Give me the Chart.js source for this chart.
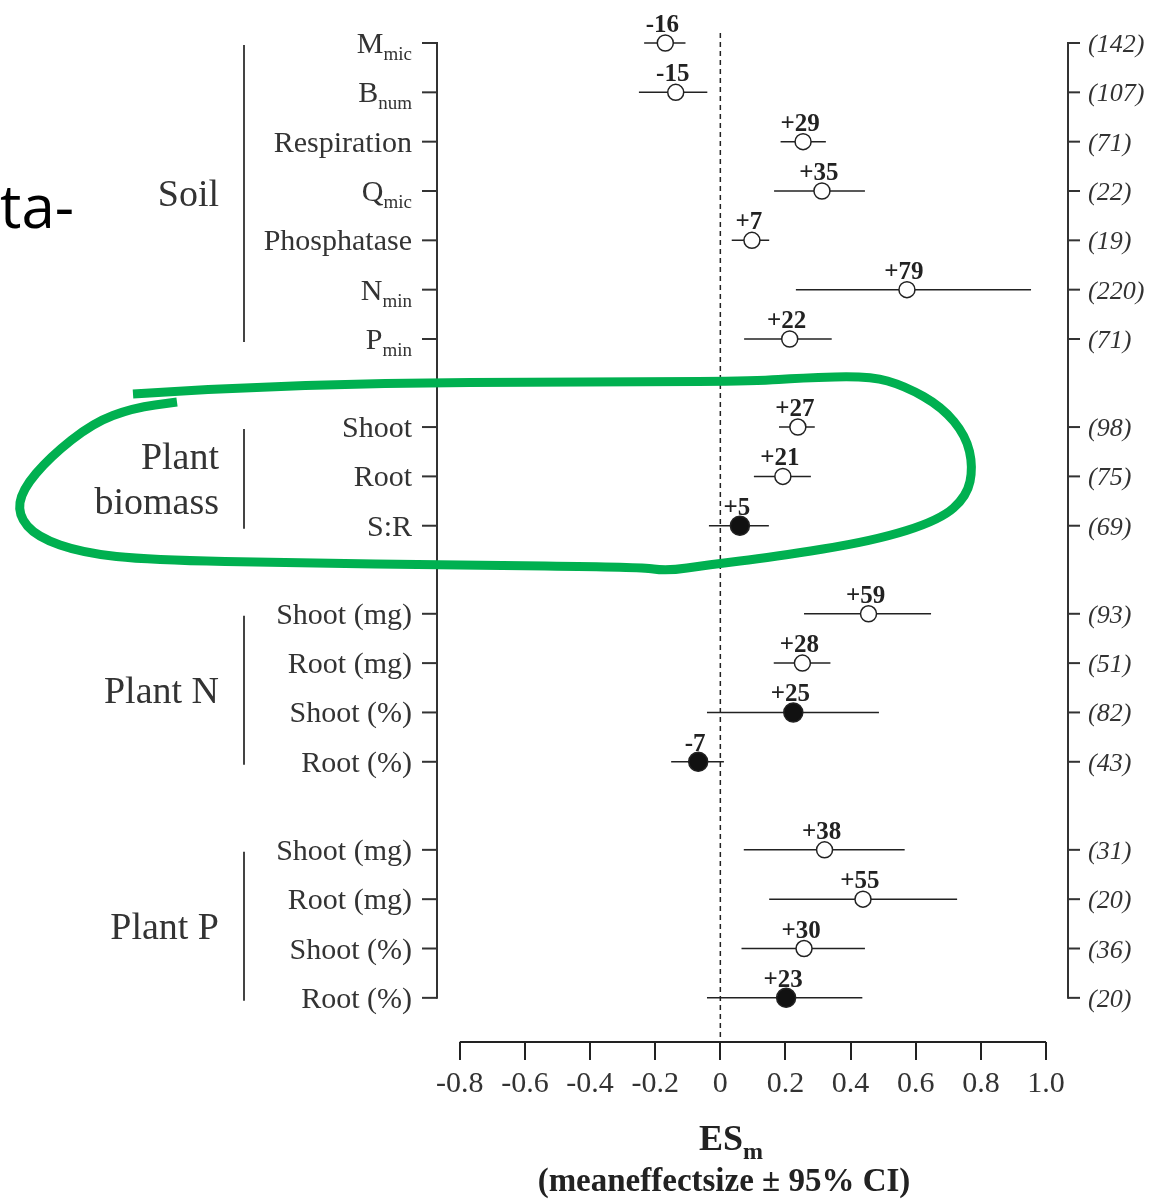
<!DOCTYPE html>
<html>
<head>
<meta charset="utf-8">
<script src="https://cdn.jsdelivr.net/npm/chart.js@4.4.0/dist/chart.umd.min.js"></script>
<style>
html, body { margin: 0; padding: 0; background: #fff; }
</style>
</head>
<body>
<canvas id="myChart" width="1162" height="1204"></canvas>
<script>
// rows, top to bottom
var rowNames = ["M", "B", "Respiration", "Q", "Phosphatase", "N", "P",
    "Shoot", "Root", "S:R",
    "Shoot (mg)", "Root (mg)", "Shoot (%)", "Root (%)",
    "Shoot (mg)", "Root (mg)", "Shoot (%)", "Root (%)"];
var rowSubs = ["mic", "num", "", "mic", "", "min", "min",
    "", "", "",
    "", "", "", "",
    "", "", "", ""];
var rowGroup = [0, 0, 0, 0, 0, 0, 0, 1, 1, 1, 2, 2, 2, 2, 3, 3, 3, 3];
var groupNames = [["Soil"], ["Plant", "biomass"], ["Plant N"], ["Plant P"]];

// mean effect size and 95% CI
var means  = [-0.169, -0.137, 0.254, 0.312, 0.097, 0.573, 0.213,
    0.238, 0.192, 0.060,
    0.455, 0.252, 0.224, -0.068,
    0.320, 0.438, 0.257, 0.202];
var ciLow  = [-0.234, -0.250, 0.185, 0.165, 0.035, 0.232, 0.073,
    0.180, 0.103, -0.035,
    0.257, 0.164, -0.041, -0.151,
    0.072, 0.150, 0.065, -0.041];
var ciHigh = [-0.107, -0.040, 0.324, 0.444, 0.150, 0.954, 0.342,
    0.290, 0.278, 0.149,
    0.647, 0.338, 0.487, 0.011,
    0.566, 0.727, 0.444, 0.436];
var pctLabels = ["-16", "-15", "+29", "+35", "+7", "+79", "+22",
    "+27", "+21", "+5",
    "+59", "+28", "+25", "-7",
    "+38", "+55", "+30", "+23"];
var counts = ["(142)", "(107)", "(71)", "(22)", "(19)", "(220)", "(71)",
    "(98)", "(75)", "(69)",
    "(93)", "(51)", "(82)", "(43)",
    "(31)", "(20)", "(36)", "(20)"];
var filled = [0, 0, 0, 0, 0, 0, 0, 0, 0, 1, 0, 0, 1, 1, 0, 0, 0, 1];

var xTicks = [-0.8, -0.6, -0.4, -0.2, 0, 0.2, 0.4, 0.6, 0.8, 1.0];
var xTickLabels = ["-0.8", "-0.6", "-0.4", "-0.2", "0", "0.2", "0.4", "0.6", "0.8", "1.0"];

var SERIF = "'Liberation Serif', 'Times New Roman', serif";
var GAP = 0.785; // extra space between groups, in rows

var rowPos = rowGroup.map(function (g, i) { return i + g * GAP; });
var points = means.map(function (m, i) { return { x: m, y: rowPos[i] }; });

// hand drawn highlight round the plant biomass block (annotation, pixels)
var loopPath = [[133, 394], [300, 383], [640, 382], [757, 381], [800, 378], [870, 376], [905, 386],
    [942, 407], [966, 436], [973, 467], [967, 496], [940, 520], [873, 541], [773, 557],
    [707, 565], [667, 571], [640, 567], [450, 565], [300, 563], [150, 560], [83, 553],
    [37, 537], [18, 515], [22, 490], [50, 457], [93, 423], [133, 408], [177, 402]];

function line(ctx, x1, y1, x2, y2) {
    ctx.beginPath();
    ctx.moveTo(x1, y1);
    ctx.lineTo(x2, y2);
    ctx.stroke();
}

var forestPlugin = {
    id: 'forest',
    beforeDatasetsDraw: function (chart) {
        var ctx = chart.ctx, xs = chart.scales.x, ys = chart.scales.y, area = chart.chartArea;
        var top = ys.getPixelForValue(rowPos[0]);
        var bottom = ys.getPixelForValue(rowPos[rowPos.length - 1]);
        ctx.save();
        ctx.strokeStyle = '#222';

        // zero line
        ctx.lineWidth = 1.5;
        ctx.setLineDash([5, 4]);
        line(ctx, xs.getPixelForValue(0), top - 10, xs.getPixelForValue(0), area.bottom);
        ctx.setLineDash([]);

        // x axis line
        ctx.lineWidth = 2;
        line(ctx, xs.getPixelForValue(xTicks[0]), area.bottom, xs.getPixelForValue(xTicks[xTicks.length - 1]), area.bottom);

        // left and right frames
        ctx.strokeStyle = '#333';
        line(ctx, area.left, top - 1, area.left, bottom + 1);
        line(ctx, area.right, top - 1, area.right, bottom + 1);
        rowPos.forEach(function (p) {
            var y = ys.getPixelForValue(p);
            line(ctx, area.left - 15, y, area.left, y);
            line(ctx, area.right, y, area.right + 12, y);
        });

        // confidence intervals
        ctx.strokeStyle = '#222';
        ctx.lineWidth = 1.5;
        rowPos.forEach(function (p, i) {
            var y = ys.getPixelForValue(p);
            line(ctx, xs.getPixelForValue(ciLow[i]), y, xs.getPixelForValue(ciHigh[i]), y);
        });
        ctx.restore();
    },
    afterDatasetsDraw: function (chart) {
        var ctx = chart.ctx, xs = chart.scales.x, ys = chart.scales.y, area = chart.chartArea;
        ctx.save();
        ctx.fillStyle = '#333';

        // row labels with subscripts
        var labelRight = area.left - 25;
        rowPos.forEach(function (p, i) {
            var y = ys.getPixelForValue(p);
            var x = labelRight;
            if (rowSubs[i]) {
                ctx.font = '19px ' + SERIF;
                ctx.textAlign = 'right';
                ctx.fillText(rowSubs[i], x, y + 17);
                x -= ctx.measureText(rowSubs[i]).width;
            }
            ctx.font = '30px ' + SERIF;
            ctx.textAlign = 'right';
            ctx.fillText(rowNames[i], x, y + 10);
        });

        // percent change over each point
        ctx.font = 'bold 25px ' + SERIF;
        ctx.textAlign = 'center';
        ctx.fillStyle = '#222';
        rowPos.forEach(function (p, i) {
            ctx.fillText(pctLabels[i], xs.getPixelForValue(means[i]) - 3, ys.getPixelForValue(p) - 11);
        });

        // number of observations
        ctx.font = 'italic 26px ' + SERIF;
        ctx.textAlign = 'left';
        ctx.fillStyle = '#333';
        rowPos.forEach(function (p, i) {
            ctx.fillText(counts[i], area.right + 20, ys.getPixelForValue(p) + 9);
        });

        // group brackets and names
        groupNames.forEach(function (names, g) {
            var idx = [];
            rowGroup.forEach(function (rg, i) { if (rg === g) idx.push(i); });
            var y1 = ys.getPixelForValue(rowPos[idx[0]]);
            var y2 = ys.getPixelForValue(rowPos[idx[idx.length - 1]]);
            ctx.strokeStyle = '#444';
            ctx.lineWidth = 2;
            line(ctx, 244, y1 + 2, 244, y2 + 3);
            var mid = (y1 + y2) / 2;
            ctx.font = '38px ' + SERIF;
            ctx.textAlign = 'right';
            names.forEach(function (n, k) {
                ctx.fillText(n, 219, mid + 15 + (k - (names.length - 1) / 2) * 45);
            });
        });

        // axis title
        ctx.fillStyle = '#222';
        ctx.font = 'bold 36px ' + SERIF;
        var wES = ctx.measureText('ES').width;
        ctx.font = 'bold 24px ' + SERIF;
        var wM = ctx.measureText('m').width;
        var tx = 731 - (wES + wM) / 2;
        ctx.textAlign = 'left';
        ctx.font = 'bold 36px ' + SERIF;
        ctx.fillText('ES', tx, 1150);
        ctx.font = 'bold 24px ' + SERIF;
        ctx.fillText('m', tx + wES, 1159);
        ctx.font = 'bold 33px ' + SERIF;
        ctx.textAlign = 'center';
        ctx.fillText('(meaneffectsize \u00b1 95% CI)', 724, 1191);

        // slide text cut at left edge
        ctx.fillStyle = '#000';
        ctx.font = "60px 'Open Sans', sans-serif";
        ctx.textAlign = 'left';
        ctx.fillText('ta-', 0, 228);

        // green highlight
        ctx.strokeStyle = '#00b050';
        ctx.lineWidth = 9;
        ctx.lineJoin = 'round';
        ctx.lineCap = 'butt';
        ctx.beginPath();
        ctx.moveTo(loopPath[0][0], loopPath[0][1]);
        for (var i = 1; i < loopPath.length - 1; i++) {
            var mx = (loopPath[i][0] + loopPath[i + 1][0]) / 2;
            var my = (loopPath[i][1] + loopPath[i + 1][1]) / 2;
            ctx.quadraticCurveTo(loopPath[i][0], loopPath[i][1], mx, my);
        }
        var last = loopPath[loopPath.length - 1];
        ctx.lineTo(last[0], last[1]);
        ctx.stroke();
        ctx.restore();
    }
};

var config = {
    type: 'scatter',
    data: {
        datasets: [{
            data: points,
            clip: false,
            pointRadius: function (c) { return filled[c.dataIndex] ? 9.5 : 8; },
            pointHoverRadius: function (c) { return filled[c.dataIndex] ? 9.5 : 8; },
            backgroundColor: function (c) { return filled[c.dataIndex] ? '#111' : '#fff'; },
            borderColor: '#222',
            borderWidth: 1.5
        }]
    },
    options: {
        responsive: false,
        animation: false,
        layout: { padding: { left: 437, right: 94, top: 43, bottom: 96 } },
        plugins: { legend: { display: false }, tooltip: { enabled: false } },
        scales: {
            x: {
                type: 'linear',
                min: -0.87,
                max: 1.0675,
                border: { display: false },
                grid: { drawOnChartArea: false, drawTicks: true, tickLength: 18, color: '#222', lineWidth: 2 },
                afterBuildTicks: function (axis) {
                    axis.ticks = xTicks.map(function (v) { return { value: v }; });
                },
                ticks: {
                    autoSkip: false,
                    maxRotation: 0,
                    padding: 6,
                    color: '#333',
                    font: { family: SERIF, size: 30 },
                    callback: function (v, i) { return xTickLabels[i]; }
                }
            },
            y: {
                type: 'linear',
                display: false,
                reverse: true,
                min: 0,
                max: 20.25
            }
        }
    },
    plugins: [forestPlugin]
};

window.onload = function () {
    var ctx = document.getElementById('myChart').getContext('2d');
    window.myForest = new Chart(ctx, config);
};
</script>
</body>
</html>
